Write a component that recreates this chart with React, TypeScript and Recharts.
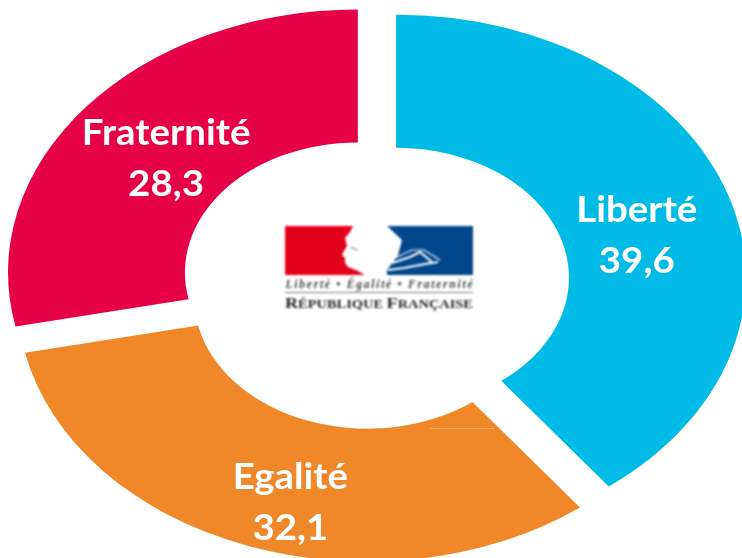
import { Pie, PieChart, Sector } from "recharts";

const names = ["Liberté", "Egalité", "Fraternité"];
const values = [39.6, 32.1, 28.3];
const colors = ["#00BBE5", "#F0882A", "#E60047"];
const data = names.map((name, i) => ({ name, value: values[i], fill: colors[i] }));

const STRETCH = 1.33;
const EXPLODE = 16.7;
const RAD = Math.PI / 180;
// label nudges, chart px, same order as names
const nudges = [[-4, 20], [10, 20], [7.5, 9]];

const ExplodedSector = (props: any) => {
  const mid = (props.startAngle + props.endAngle) / 2;
  return (
    <Sector
      {...props}
      cx={props.cx + EXPLODE * Math.cos(mid * RAD)}
      cy={props.cy - EXPLODE * Math.sin(mid * RAD)}
      stroke="none"
    />
  );
};

const SliceLabel = (props: any) => {
  const mid = props.midAngle;
  const [nx, ny] = nudges[props.index];
  const r = 212;
  const x = props.cx + r * Math.cos(mid * RAD) + nx;
  const y = props.cy - r * Math.sin(mid * RAD) + ny;
  return (
    <g transform={`translate(${x},${y}) scale(${1.04 / STRETCH},1)`}>
      <text textAnchor="middle" y={-13} fontFamily="Lato" fontWeight={700} fontSize={37} fill="#fff">
        {props.name}
      </text>
      <text textAnchor="middle" y={38} fontFamily="Lato" fontWeight={700} fontSize={37} fill="#fff">
        {String(props.value).replace(".", ",")}
      </text>
    </g>
  );
};

const Logo = () => (
  <svg width={742} height={558} style={{ position: "absolute", left: 0, top: 0 }}>
    <line x1={430} y1={428.5} x2={494} y2={428.5} stroke="#F4AB6C" strokeWidth={1} />
    <g style={{ filter: "blur(0.9px)" }}>
      <polygon
        points="285,226 353,226 350,232 345,238 347,246 344,251 342,255 345,258 345,263 348,267 356,270 365,275 285,275"
        fill="#E2001A"
      />
      <polygon
        points="387,226 473,226 473,275 387,275 387,270 398,255 402,240"
        fill="#00468C"
      />
      <polyline points="392,263 410,257 420,252 432,262" fill="none" stroke="#fff" strokeWidth={2} />
      <polyline points="388,270 404,268 425,264 438,262" fill="none" stroke="#fff" strokeWidth={2} />
      <polyline points="395,258 412,250 424,250 440,260" fill="none" stroke="#fff" strokeWidth={1.2} />
      <line x1={350} y1={247} x2={358} y2={250} stroke="#8a8a8a" strokeWidth={1.2} />
      <text
        x={379}
        y={288}
        textAnchor="middle"
        fontFamily="Liberation Serif"
        fontStyle="italic"
        fontWeight={700}
        fontSize={11.5}
        textLength={187}
        lengthAdjust="spacing"
        fill="#444"
      >
        Liberté • Égalité • Fraternité
      </text>
      <line x1={285} y1={292.5} x2={473} y2={292.5} stroke="#777" strokeWidth={1} />
      <text
        x={379}
        y={308}
        textAnchor="middle"
        fontFamily="Liberation Serif"
        fontWeight={700}
        fontSize={11.5}
        textLength={188}
        lengthAdjust="spacingAndGlyphs"
        fill="#222"
      >
        <tspan fontSize={14.5}>R</tspan>ÉPUBLIQUE <tspan fontSize={14.5}>F</tspan>RANÇAISE
      </text>
    </g>
  </svg>
);

export default function App() {
  return (
    <div style={{ position: "absolute", left: 0, top: 0, width: 742, height: 558, overflow: "hidden", background: "#fff" }}>
      <div style={{ width: 558, height: 558, transform: `scaleX(${STRETCH})`, transformOrigin: "0 0" }}>
        <PieChart width={558} height={558} margin={{ top: 0, right: 0, bottom: 0, left: 0 }}>
          <Pie
            data={data}
            dataKey="value"
            nameKey="name"
            cx={282}
            cy={283}
            outerRadius={263}
            innerRadius={130}
            startAngle={90}
            endAngle={-270}
            stroke="none"
            labelLine={false}
            label={SliceLabel}
            shape={ExplodedSector}
            isAnimationActive={false}
          />
        </PieChart>
      </div>
      <Logo />
    </div>
  );
}
